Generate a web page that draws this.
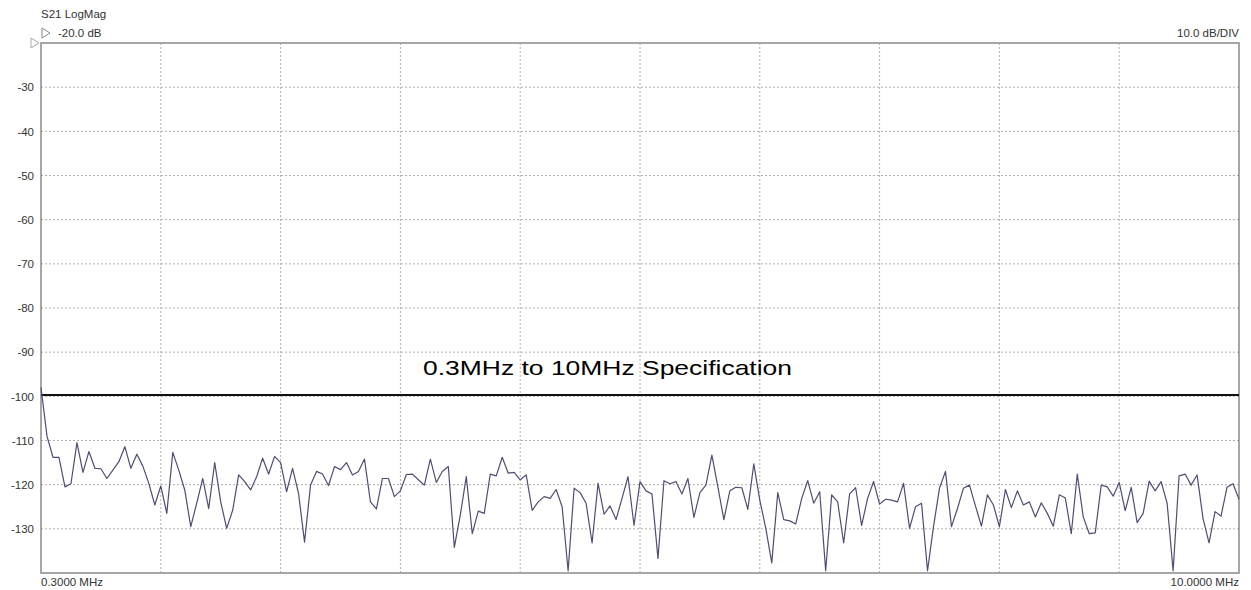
<!DOCTYPE html>
<html>
  <head>
    <meta charset="utf-8" />
    <title>S21 LogMag</title>
    <script src="https://d3js.org/d3.v7.min.js" charset="utf-8"></script>
    <style>
      html,
      body {
        margin: 0;
        padding: 0;
        background-color: #ffffff;
        font-family: "Liberation Sans", Arial, sans-serif;
      }
    </style>
  </head>

  <body>
    <svg id="chart"></svg>

    <script>
      // Trace values in dB, one per sweep point (201 points, 0.3 to 10 MHz)
      const traceDb = [
        -98.0, -109.0, -113.8, -113.8, -120.5, -119.8, -110.5, -117.2, -112.5, -116.3,
        -116.4, -118.6, -116.7, -114.8, -111.4, -116.3, -113.1, -115.8, -119.7, -124.6,
        -120.3, -126.5, -112.7, -116.7, -121.2, -129.5, -124.2, -118.6, -125.4, -115.0,
        -123.9, -129.9, -125.8, -117.8, -119.3, -121.2, -118.2, -114.0, -117.6, -113.6,
        -115.0, -121.6, -116.3, -122.0, -133.0, -120.1, -117.0, -117.6, -120.2, -115.9,
        -116.6, -115.0, -117.8, -117.0, -114.2, -123.9, -125.5, -118.6, -118.6, -122.7,
        -121.4, -117.7, -117.6, -118.9, -120.1, -114.2, -119.5, -117.0, -115.9, -134.2,
        -126.9, -118.2, -131.1, -126.0, -126.5, -117.6, -118.0, -113.8, -117.4, -117.2,
        -118.9, -117.8, -125.8, -123.9, -122.7, -123.1, -121.1, -125.0, -139.5, -120.8,
        -121.8, -124.2, -133.2, -119.7, -126.7, -124.8, -127.9, -123.1, -118.2, -129.2,
        -119.3, -121.4, -122.1, -136.7, -119.1, -119.8, -119.3, -122.1, -118.6, -127.4,
        -121.8, -120.1, -113.3, -120.5, -127.9, -121.4, -120.6, -120.7, -125.6, -115.3,
        -123.5, -129.9, -137.7, -121.8, -127.9, -128.2, -128.9, -123.1, -119.1, -124.2,
        -121.6, -139.5, -122.3, -123.9, -133.2, -122.1, -120.7, -129.2, -123.1, -119.3,
        -124.4, -123.3, -123.5, -123.9, -119.7, -129.9, -125.0, -124.2, -139.5, -129.5,
        -120.8, -117.0, -129.5, -125.4, -120.8, -120.1, -124.8, -129.4, -122.3, -124.6,
        -129.5, -121.1, -125.2, -121.4, -124.6, -123.9, -127.3, -124.1, -126.5, -129.4,
        -122.3, -123.0, -131.1, -117.6, -127.3, -131.1, -130.9, -120.1, -120.5, -122.6,
        -119.5, -125.9, -120.6, -128.6, -126.5, -119.2, -121.4, -119.3, -124.2, -139.5,
        -118.0, -117.6, -120.1, -117.8, -127.7, -133.2, -126.1, -127.1, -120.6, -119.8,
        -123.3
      ];

      // Y tick labels (dB) and the spec limit
      const yTicks = [-30, -40, -50, -60, -70, -80, -90, -100, -110, -120, -130];
      const specLimit = -99.7;
      const specLabel = "0.3MHz to 10MHz Specification";
      const startLabel = "0.3000 MHz";
      const stopLabel = "10.0000 MHz";

      // SVG size
      const width = 1251;
      const height = 590;

      // plot area edges
      const plotLeft = 41;
      const plotRight = 1239;
      const plotTop = 43;
      const plotBottom = 573;

      const svg = d3
        .select("#chart")
        .attr("width", width)
        .attr("height", height)
        .style("display", "block");

      // x is sweep point index, y is dB (10 dB/div, 12 div from -20 to -140)
      const xScale = d3
        .scaleLinear()
        .domain([0, traceDb.length - 1])
        .range([plotLeft, plotRight]);

      const yScale = d3
        .scaleLinear()
        .domain([-140, -20])
        .range([plotBottom, plotTop]);

      // vertical grid lines (10 divisions)
      const xGrid = d3.range(1, 10).map((k) => (k * (traceDb.length - 1)) / 10);
      svg
        .append("g")
        .selectAll("line")
        .data(xGrid)
        .enter()
        .append("line")
        .attr("x1", (d) => xScale(d))
        .attr("x2", (d) => xScale(d))
        .attr("y1", plotTop)
        .attr("y2", plotBottom)
        .attr("stroke", "#b0b0b0")
        .attr("stroke-width", 1)
        .attr("stroke-dasharray", "2,2");

      // horizontal grid lines
      svg
        .append("g")
        .selectAll("line")
        .data(yTicks)
        .enter()
        .append("line")
        .attr("x1", plotLeft)
        .attr("x2", plotRight)
        .attr("y1", (d) => yScale(d))
        .attr("y2", (d) => yScale(d))
        .attr("stroke", "#b0b0b0")
        .attr("stroke-width", 1)
        .attr("stroke-dasharray", "2,2");

      // y axis labels (plain hyphen, like the analyser screen)
      const yAxis = d3
        .axisLeft(yScale)
        .tickValues(yTicks)
        .tickSize(0)
        .tickPadding(7)
        .tickFormat((d) => String(d));
      const yAxisG = svg
        .append("g")
        .attr("transform", `translate(${plotLeft},0)`)
        .call(yAxis);
      yAxisG.select(".domain").remove();
      yAxisG
        .selectAll("text")
        .attr("font-size", 11.5)
        .attr("fill", "#333")
        .attr("font-family", "Liberation Sans, Arial, sans-serif");

      // frame
      svg
        .append("rect")
        .attr("x", plotLeft)
        .attr("y", plotTop)
        .attr("width", plotRight - plotLeft)
        .attr("height", plotBottom - plotTop)
        .attr("fill", "none")
        .attr("stroke", "#8a8a8a")
        .attr("stroke-width", 1.5);

      // spec limit line and its label
      svg
        .append("line")
        .attr("x1", plotLeft)
        .attr("x2", plotRight)
        .attr("y1", yScale(specLimit))
        .attr("y2", yScale(specLimit))
        .attr("stroke", "#111")
        .attr("stroke-width", 2);

      svg
        .append("text")
        .attr("x", 607.5)
        .attr("y", yScale(specLimit) - 20)
        .attr("text-anchor", "middle")
        .attr("font-size", 21)
        .attr("textLength", 369)
        .attr("lengthAdjust", "spacingAndGlyphs")
        .attr("fill", "#000")
        .text(specLabel);

      // measured trace
      const line = d3
        .line()
        .x((d, i) => xScale(i))
        .y((d) => yScale(d));

      svg
        .append("path")
        .datum(traceDb)
        .attr("d", line)
        .attr("fill", "none")
        .attr("stroke", "#4e4e72")
        .attr("stroke-width", 1.2)
        .attr("stroke-linejoin", "round");

      // header texts
      svg
        .append("text")
        .attr("x", plotLeft)
        .attr("y", 18)
        .attr("font-size", 11.5)
        .attr("fill", "#333")
        .text("S21 LogMag");

      svg
        .append("text")
        .attr("x", plotLeft + 17)
        .attr("y", 37)
        .attr("font-size", 11.5)
        .attr("fill", "#333")
        .text("-20.0 dB");

      svg
        .append("text")
        .attr("x", plotRight)
        .attr("y", 37)
        .attr("text-anchor", "end")
        .attr("font-size", 11.5)
        .attr("fill", "#333")
        .text("10.0 dB/DIV");

      // small reference triangles
      const tri = (x, y) => `M${x},${y - 5}L${x + 8},${y}L${x},${y + 5}Z`;
      svg
        .append("path")
        .attr("d", tri(plotLeft + 1, 33))
        .attr("fill", "none")
        .attr("stroke", "#888")
        .attr("stroke-width", 1);
      svg
        .append("path")
        .attr("d", tri(31, yScale(-20)))
        .attr("fill", "none")
        .attr("stroke", "#aaa")
        .attr("stroke-width", 1);

      // start / stop frequency labels
      svg
        .append("text")
        .attr("x", plotLeft)
        .attr("y", 586)
        .attr("font-size", 11.5)
        .attr("fill", "#333")
        .text(startLabel);

      svg
        .append("text")
        .attr("x", plotRight)
        .attr("y", 586)
        .attr("text-anchor", "end")
        .attr("font-size", 11.5)
        .attr("fill", "#333")
        .text(stopLabel);
    </script>
  </body>
</html>
